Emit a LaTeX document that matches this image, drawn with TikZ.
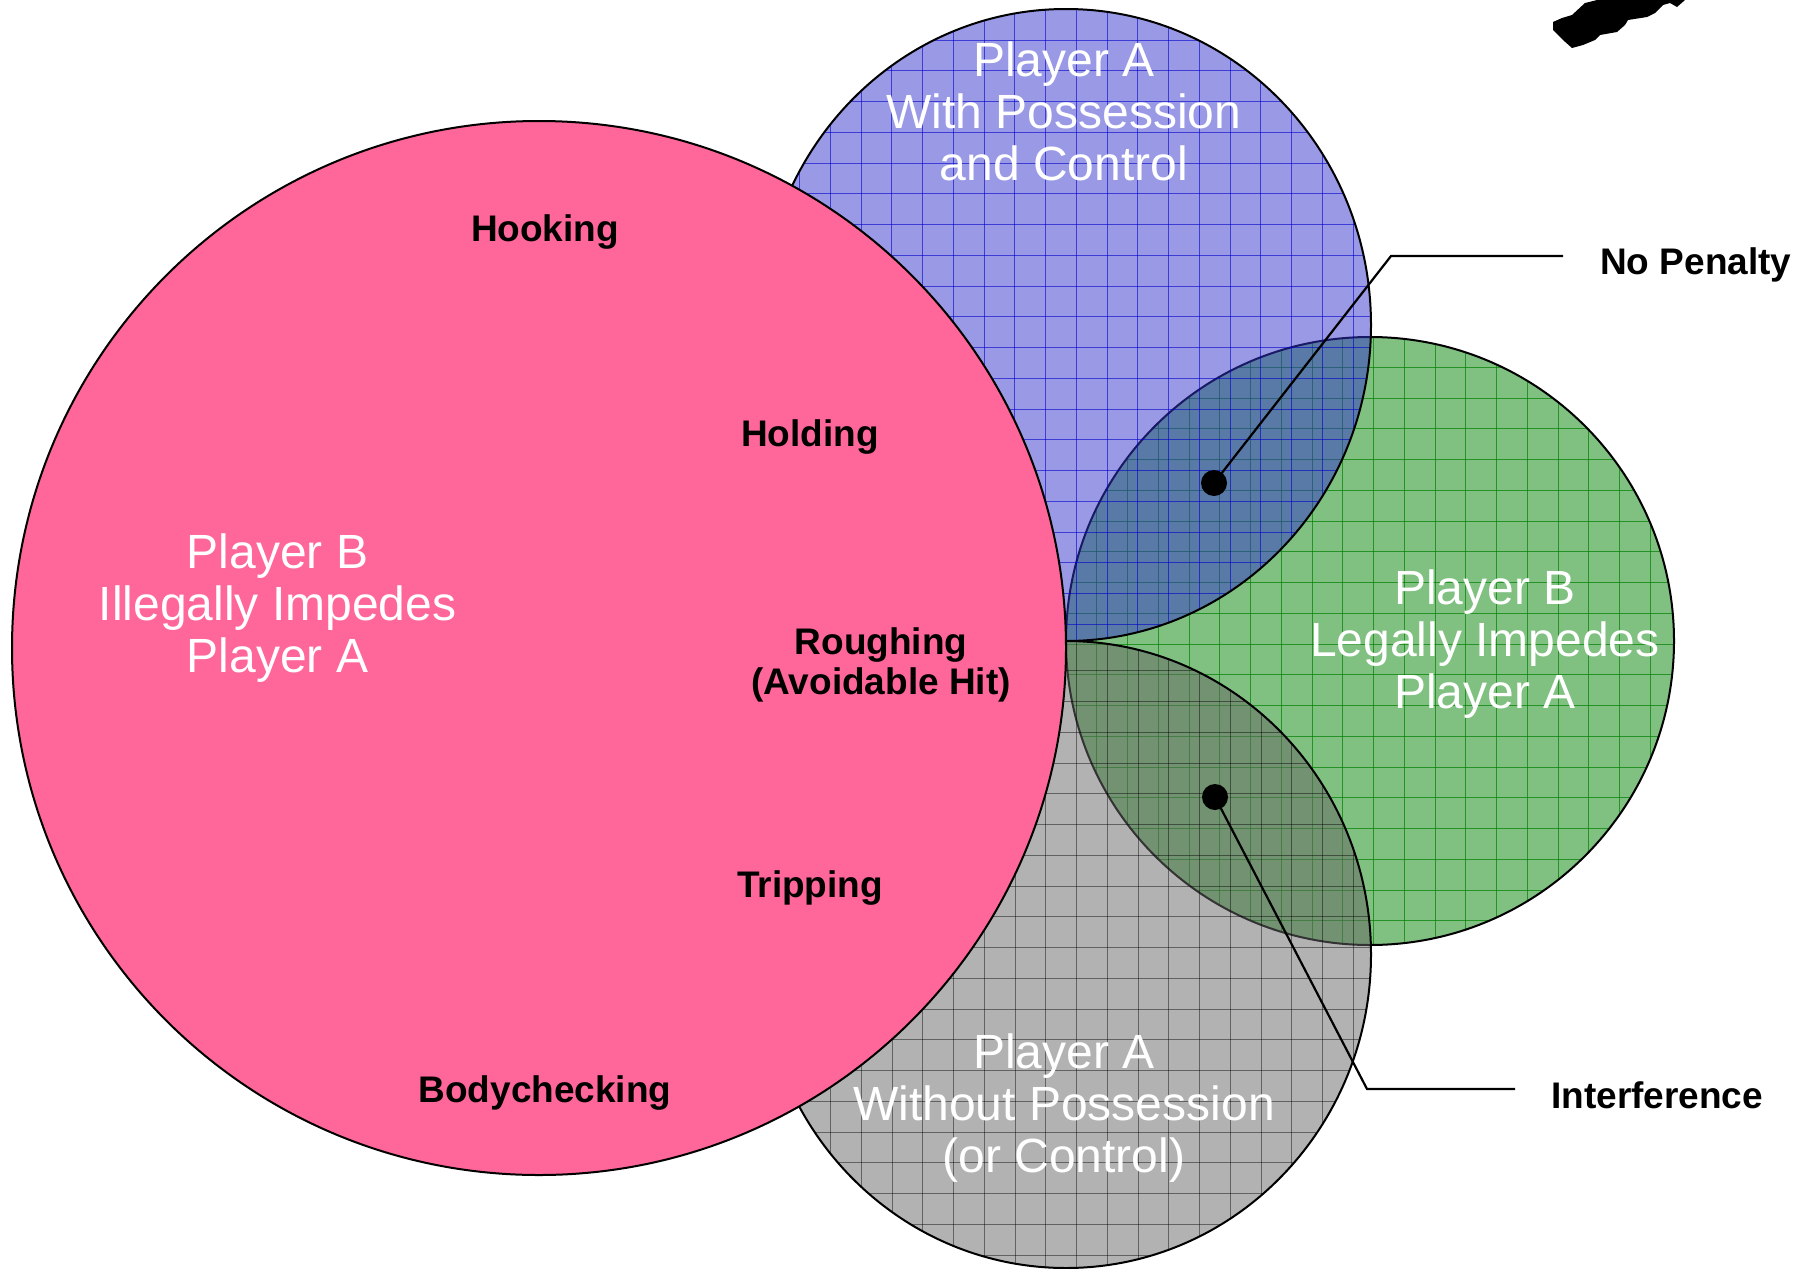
\documentclass[tikz,border=0pt]{standalone}
\usepackage{fontspec}
\setmainfont{Liberation Sans}

\definecolor{pinkfill}{RGB}{255,102,153}
\definecolor{bluefill}{RGB}{51,51,204}
\definecolor{greenfill}{RGB}{128,192,128}
\definecolor{grayfill}{RGB}{102,102,102}

\tikzset{
  zone/.style={draw=black, line width=2pt},
  bluegrid/.style={draw={rgb,255:red,0;green,0;blue,204}, opacity=0.6, line width=1pt},
  greengrid/.style={draw={rgb,255:red,0;green,128;blue,0}, opacity=0.7, line width=1pt},
  graygrid/.style={draw=black, opacity=0.45, line width=1pt},
  bigtext/.style={text=white, align=center, font=\fontsize{48}{52}\selectfont},
  foul/.style={align=center, font=\bfseries\fontsize{37}{40}\selectfont},
  leader/.style={line width=2.2pt},
  spot/.style={circle, fill=black, inner sep=0pt, minimum size=26pt}
}

\begin{document}
\begin{tikzpicture}[x=1pt, y=-1pt]
    \useasboundingbox (0,0) rectangle (1802,1269);
    % Zones
    \begin{scope}
      \clip (1370,641) circle [radius=304];
      \fill[greenfill] (1370,641) circle [radius=304];
      \foreach \k in {34,...,54}
        \draw[greengrid] ({20.5+30.75*\k},330) -- ++(0,620);
      \foreach \k in {10,...,30}
        \draw[greengrid] (1060,{29+30.75*\k}) -- ++(620,0);
    \end{scope}
    \draw[zone] (1370,641) circle [radius=304]; % legally impedes
    \begin{scope}
      \clip (1066,325) ellipse [x radius=305, y radius=316];
      \fill[bluefill, fill opacity=0.5] (1066,325) ellipse [x radius=305, y radius=316];
      \foreach \k in {25,...,44}
        \draw[bluegrid] ({0.2+30.75*\k},0) -- ++(0,650);
      \foreach \k in {0,...,20}
        \draw[bluegrid] (750,{9.25+30.75*\k}) -- ++(630,0);
    \end{scope}
    \draw[zone] (1066,325) ellipse [x radius=305, y radius=316]; % with possession
    \begin{scope}
      \clip (1066,954.5) ellipse [x radius=305, y radius=313.5];
      \fill[grayfill, fill opacity=0.5] (1066,954.5) ellipse [x radius=305, y radius=313.5];
      \foreach \k in {25,...,44}
        \draw[graygrid] ({0.25+30.75*\k},630) -- ++(0,645);
      \foreach \k in {20,...,40}
        \draw[graygrid] (750,{25+30.75*\k}) -- ++(630,0);
    \end{scope}
    \draw[zone] (1066,954.5) ellipse [x radius=305, y radius=313.5]; % without possession
    \draw[zone, fill=pinkfill] (539,648) circle [radius=527]; % illegally impedes
    % Blot
    \fill (1553,22) -- (1562,18) -- (1572,15) -- (1585,3) -- (1597,0) -- (1685,0)
      -- (1677,7) -- (1670,3) -- (1663,5) -- (1655,13) -- (1647,17) -- (1628,20)
      -- (1625,25) -- (1617,32) -- (1600,35) -- (1595,40) -- (1583,45) -- (1572,48)
      -- (1563,40) -- (1553,30) -- cycle;
    % Labels
    \node[bigtext] (illegal) at (277.5,608.5) {Player B\\Illegally Impedes\\Player A};
    \node[bigtext] (withpos) at (1064,111) {Player A\\With Possession\\and Control};
    \node[bigtext] (legal) at (1485,644) {Player B\\Legally Impedes\\Player A};
    \node[bigtext] (withoutpos) at (1064,1108) {Player A\\Without Possession\\(or Control)};
    \node[foul] (hooking) at (545,232.5) {Hooking};
    \node[foul] (holding) at (810,437.5) {Holding};
    \node[foul] (roughing) at (881,665) {Roughing\\(Avoidable Hit)};
    \node[foul] (tripping) at (810,888.5) {Tripping};
    \node[foul] (bodycheck) at (545,1093) {Bodychecking};
    % Callouts
    \node[spot] (npdot) at (1214,483) {};
    \coordinate (npbend) at (1391,256);
    \coordinate (npend) at (1563,256);
    \node[foul, anchor=west, inner sep=0pt] (nopenalty) at (1600,265) {No Penalty};
    \draw[leader] (npdot.center) -- (npbend) -- (npend);
    \node[spot] (ifdot) at (1215,797) {};
    \coordinate (ifbend) at (1367,1089);
    \coordinate (ifend) at (1515,1089);
    \node[foul, anchor=west, inner sep=0pt] (interference) at (1551,1095) {Interference};
    \draw[leader] (ifdot.center) -- (ifbend) -- (ifend);
  \end{tikzpicture}
\end{document}
